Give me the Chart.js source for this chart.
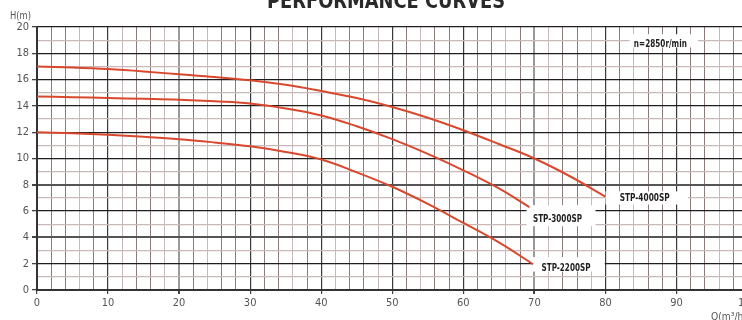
<!DOCTYPE html>
<html><head><meta charset="utf-8">
<script src="https://cdn.jsdelivr.net/npm/chart.js@4.4.1/dist/chart.umd.min.js"></script>
<style>
html,body{margin:0;padding:0;background:#fff;overflow:hidden;width:742px;height:320px;}
#wrap{position:absolute;left:0;top:0;width:760px;height:320px;}
</style></head>
<body>
<div id="wrap"><canvas id="c" width="760" height="320"></canvas></div>
<script>
// ---- data ----
const seriesNames = ['STP-4000SP', 'STP-3000SP', 'STP-2200SP'];
const q4000 = [0, 5, 10, 15, 20, 25, 30, 35, 40, 45, 50, 55, 60, 65, 70, 75, 80];
const h4000 = [17.0, 16.92, 16.8, 16.62, 16.4, 16.2, 15.95, 15.6, 15.13, 14.6, 13.92, 13.1, 12.15, 11.1, 10.0, 8.65, 7.1];
const q3000 = [0, 5, 10, 15, 20, 25, 30, 35, 40, 45, 50, 55, 60, 65, 69.3];
const h3000 = [14.72, 14.66, 14.6, 14.54, 14.47, 14.35, 14.18, 13.8, 13.27, 12.45, 11.47, 10.35, 9.1, 7.72, 6.3];
const q2200 = [0, 5, 10, 15, 20, 25, 30, 35, 40, 45, 50, 55, 60, 65, 69.8];
const h2200 = [12.0, 11.92, 11.8, 11.65, 11.47, 11.22, 10.93, 10.5, 9.92, 8.95, 7.85, 6.55, 5.1, 3.62, 1.97];
const xTicks = [0, 10, 20, 30, 40, 50, 60, 70, 80, 90, 100];
const yTicks = [0, 2, 4, 6, 8, 10, 12, 14, 16, 18, 20];
const speedLabel = 'n=2850r/min';
const titleText = 'PERFORMANCE CURVES';
const yTitle = 'H(m)';
const xTitle = 'Q(m³/h)';

// annotation anchors (data units)
const annText = ['STP-4000SP', 'STP-3000SP', 'STP-2200SP', speedLabel];
const annQ = [82.0, 69.8, 71.0, 84.0];
const annH = [7.0, 5.4, 1.7, 18.73];
const annW = [50, 49, 49, 53];
const boxQ0 = [80.0, 68.9, 69.8, 83.4];
const boxQ1 = [91.6, 78.6, 79.9, 93.0];
const boxH0 = [7.5, 6.45, 2.5, 19.45];
const boxH1 = [6.5, 4.85, 1.4, 18.45];

const FONT = "'Liberation Sans Narrow', 'DejaVu Sans Condensed', 'Liberation Sans', sans-serif";
const RED = '#d9482d';

function pts(qs, hs){ return qs.map((q,i)=>({x:q, y:hs[i]})); }

function fitText(ctx, text, x, y, width){
  const w = ctx.measureText(text).width;
  ctx.save();
  ctx.translate(x, y);
  ctx.scale(width / w, 1);
  ctx.fillText(text, 0, 0);
  ctx.restore();
}

const annPlugin = {
  id:'ann',
  beforeDatasetsDraw(chart){
    const ctx = chart.ctx, xs = chart.scales.x, ys = chart.scales.y;
    ctx.save();
    ctx.fillStyle = '#fff';
    for (let i=0;i<annText.length;i++){
      const x0 = xs.getPixelForValue(boxQ0[i]), x1 = xs.getPixelForValue(boxQ1[i]);
      const y0 = ys.getPixelForValue(boxH0[i]), y1 = ys.getPixelForValue(boxH1[i]);
      ctx.fillRect(x0, y0, x1-x0, y1-y0);
    }
    ctx.fillStyle = '#1e1e1e';
    ctx.textBaseline = 'middle';
    ctx.textAlign = 'left';
    ctx.font = "bold 11px " + FONT;
    for (let i=0;i<annText.length;i++){
      fitText(ctx, annText[i], xs.getPixelForValue(annQ[i]), ys.getPixelForValue(annH[i]), annW[i]);
    }
    ctx.restore();
  },
  afterDraw(chart){
    const ctx = chart.ctx;
    ctx.save();
    ctx.font = "bold 22px " + FONT;
    ctx.fillStyle = '#2a2a2a';
    ctx.textBaseline = 'alphabetic';
    ctx.textAlign = 'left';
    fitText(ctx, titleText, 267, 7.5, 238);
    ctx.restore();
    ctx.save();
    ctx.font = "11px " + FONT;
    ctx.fillStyle = '#555';
    ctx.textBaseline = 'middle';
    ctx.textAlign = 'left';
    fitText(ctx, yTitle, 10, 16, 21);
    fitText(ctx, xTitle, 711, 317, 36);
    ctx.restore();
  }
};

function xGridColor(c){
  const v = c.tick.value;
  if (v === 20 || v === 70) return '#9a9a9a';
  if (v % 10 === 0) return '#3a3a3a';
  return (v % 6 === 0) ? '#c9b8b8' : '#8e7a78';
}
function xGridWidth(c){
  const v = c.tick.value;
  if (v === 20 || v === 70) return 2;
  if (v % 10 === 0) return 1.2;
  return 1;
}
function yGridColor(c){
  const v = c.tick.value;
  if (v === 4 || v === 8) return '#555';
  if (v % 2 === 0) return '#1e1e1e';
  return '#c9b8b8';
}
function yGridWidth(c){
  const v = c.tick.value;
  if (v === 4 || v === 8) return 2;
  return 1.3;
}

new Chart(document.getElementById('c'), {
  type:'line',
  data:{
    datasets:[
      {label:seriesNames[0], data:pts(q4000,h4000)},
      {label:seriesNames[1], data:pts(q3000,h3000)},
      {label:seriesNames[2], data:pts(q2200,h2200)}
    ].map(d=>Object.assign(d,{borderColor:RED, borderWidth:2, pointRadius:0, fill:false, tension:0.4}))
  },
  options:{
    responsive:false, animation:false,
    layout:{padding:{top:27, right:12, left:0, bottom:0}},
    plugins:{legend:{display:false}, tooltip:{enabled:false}, title:{display:false}},
    scales:{
      x:{
        type:'linear', min:0, max:100,
        afterBuildTicks(s){ const t=[]; for(let v=0;v<=100;v+=2) t.push({value:v}); s.ticks=t; },
        afterFit(s){ s.height = 30; },
        border:{display:true, color:'#333', width:2},
        grid:{color:xGridColor, lineWidth:xGridWidth, tickLength:4, drawTicks:true,
              tickColor:(c)=> c.tick.value%10===0 ? '#444' : 'rgba(0,0,0,0)'},
        ticks:{autoSkip:false, maxRotation:0, padding:3, color:'#555', font:{family:FONT, size:11},
               callback:(v)=> xTicks.includes(v) ? String(v) : ''}
      },
      y:{
        type:'linear', min:0, max:20,
        afterBuildTicks(s){ const t=[]; for(let v=0;v<=20;v+=1) t.push({value:v}); s.ticks=t; },
        afterFit(s){ s.width = 37; },
        border:{display:true, color:'#333', width:2},
        grid:{color:yGridColor, lineWidth:yGridWidth, tickLength:5,
              tickColor:(c)=> c.tick.value%2===0 ? '#444' : 'rgba(0,0,0,0)'},
        ticks:{autoSkip:false, padding:3, color:'#555', font:{family:FONT, size:11},
               callback:(v)=> yTicks.includes(v) ? String(v) : ''}
      }
    }
  },
  plugins:[annPlugin]
});
</script>
</body></html>
